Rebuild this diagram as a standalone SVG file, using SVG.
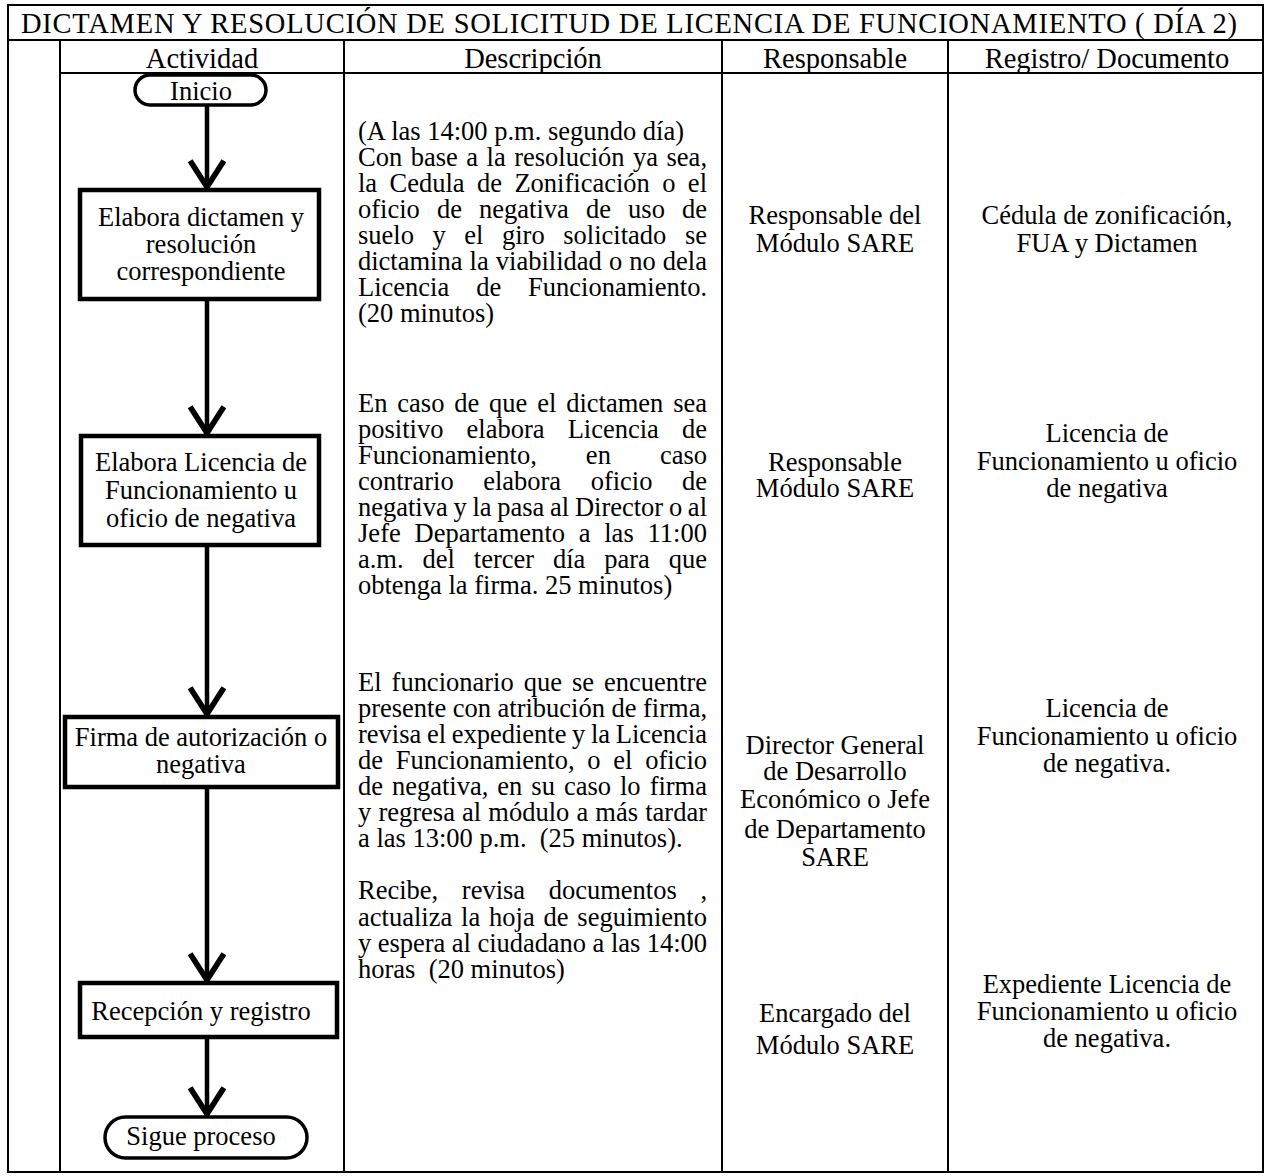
<svg xmlns="http://www.w3.org/2000/svg" width="1265" height="1176" viewBox="0 0 1265 1176">
<style>
text{font-family:"Liberation Serif","Times New Roman",serif;font-size:26.5px;fill:#000}
.h{font-size:28.5px}
.c{text-anchor:middle}
.grid line{stroke:#000;stroke-width:2}
.box{fill:#fff;stroke:#000;stroke-width:4.5}
.pill{fill:#fff;stroke:#000;stroke-width:3.5}
.conn line{stroke:#000;stroke-width:4.5}
</style>
<defs>
<marker id="arr" markerUnits="userSpaceOnUse" markerWidth="50" markerHeight="50" viewBox="-30 -20 40 40" refX="0" refY="0" orient="auto" overflow="visible">
<path d="M-21,-13.5 L0,0 L-21,13.5" fill="none" stroke="#000" stroke-width="4.5"/>
</marker>
</defs>
<rect width="1265" height="1176" fill="#fff"/>
<g id="table" class="grid">
<line x1="7" y1="5" x2="1264" y2="5"/>
<line x1="7" y1="40" x2="1264" y2="40"/>
<line x1="60" y1="73" x2="1264" y2="73"/>
<line x1="7" y1="1172" x2="1264" y2="1172"/>
<line x1="8" y1="4" x2="8" y2="1173"/>
<line x1="1263" y1="4" x2="1263" y2="1173"/>
<line x1="60" y1="40" x2="60" y2="1173"/>
<line x1="344" y1="40" x2="344" y2="1173"/>
<line x1="722" y1="40" x2="722" y2="1173"/>
<line x1="948" y1="40" x2="948" y2="1173"/>
</g>
<g id="headers">
<text class="h" x="21" y="33" textLength="1216" lengthAdjust="spacing">DICTAMEN Y RESOLUCIÓN DE SOLICITUD DE LICENCIA DE FUNCIONAMIENTO ( DÍA 2)</text>
<text class="h c" x="202" y="68">Actividad</text>
<text class="h c" x="533" y="68">Descripción</text>
<text class="h c" x="835" y="68">Responsable</text>
<text class="h c" x="1107" y="68">Registro/ Documento</text>
</g>
<g id="connectors" class="conn">
<line x1="207" y1="105" x2="207" y2="187" marker-end="url(#arr)"/>
<line x1="207" y1="299" x2="207" y2="433" marker-end="url(#arr)"/>
<line x1="207" y1="545" x2="207" y2="714" marker-end="url(#arr)"/>
<line x1="207" y1="787" x2="207" y2="980" marker-end="url(#arr)"/>
<line x1="207" y1="1037" x2="207" y2="1114" marker-end="url(#arr)"/>
</g>
<g id="n-inicio">
<rect class="pill" x="135" y="75" width="131" height="30" rx="15"/>
<text class="c" x="201" y="100">Inicio</text>
</g>
<g id="n-elabora-dictamen">
<rect class="box" x="80" y="190" width="239" height="109"/>
<text class="c"><tspan x="201" y="226">Elabora dictamen y</tspan><tspan x="201" y="253">resolución</tspan><tspan x="201" y="280">correspondiente</tspan></text>
</g>
<g id="n-elabora-licencia">
<rect class="box" x="81" y="436" width="238" height="109"/>
<text class="c"><tspan x="201" y="471">Elabora Licencia de</tspan><tspan x="201" y="499">Funcionamiento u</tspan><tspan x="201" y="527">oficio de negativa</tspan></text>
</g>
<g id="n-firma">
<rect class="box" x="65" y="717" width="273" height="70"/>
<text class="c"><tspan x="201" y="746">Firma de autorización o</tspan><tspan x="201" y="773">negativa</tspan></text>
</g>
<g id="n-recepcion">
<rect class="box" x="80" y="983" width="257" height="54"/>
<text class="c" x="201" y="1020">Recepción y registro</text>
</g>
<g id="n-sigue">
<rect class="pill" x="105" y="1117" width="202" height="41" rx="20.5"/>
<text class="c" x="201" y="1145">Sigue proceso</text>
</g>
<g id="descripcion">
<text xml:space="preserve"><tspan x="358" y="140">(A las 14:00 p.m. segundo día)</tspan><tspan x="358" y="166" textLength="349" lengthAdjust="spacing" style="word-spacing:1.9px">Con base a la resolución ya sea,</tspan><tspan x="358" y="192" textLength="349" lengthAdjust="spacing" style="word-spacing:5.8px">la Cedula de Zonificación o el</tspan><tspan x="358" y="218" textLength="349" lengthAdjust="spacing" style="word-spacing:10.5px">oficio de negativa de uso de</tspan><tspan x="358" y="244" textLength="349" lengthAdjust="spacing" style="word-spacing:11.9px">suelo y el giro solicitado se</tspan><tspan x="358" y="270" textLength="349" lengthAdjust="spacing" style="word-spacing:0.5px">dictamina la viabilidad o no dela</tspan><tspan x="358" y="296" textLength="349" lengthAdjust="spacing" style="word-spacing:20.3px">Licencia de Funcionamiento.</tspan><tspan x="358" y="322">(20 minutos)</tspan></text>
<text xml:space="preserve"><tspan x="358" y="412" textLength="349" lengthAdjust="spacing" style="word-spacing:3.2px">En caso de que el dictamen sea</tspan><tspan x="358" y="438" textLength="349" lengthAdjust="spacing" style="word-spacing:16.5px">positivo elabora Licencia de</tspan><tspan x="358" y="464" textLength="349" lengthAdjust="spacing" style="word-spacing:42.4px">Funcionamiento, en caso</tspan><tspan x="358" y="490" textLength="349" lengthAdjust="spacing" style="word-spacing:22.9px">contrario elabora oficio de</tspan><tspan x="358" y="516" textLength="349" lengthAdjust="spacing" style="word-spacing:-0.9px">negativa y la pasa al Director o al</tspan><tspan x="358" y="542" textLength="349" lengthAdjust="spacing" style="word-spacing:7px">Jefe Departamento a las 11:00</tspan><tspan x="358" y="568" textLength="349" lengthAdjust="spacing" style="word-spacing:12.3px">a.m. del tercer día para que</tspan><tspan x="358" y="594">obtenga la firma. 25 minutos)</tspan></text>
<text xml:space="preserve"><tspan x="358" y="691" textLength="349" lengthAdjust="spacing" style="word-spacing:3.4px">El funcionario que se encuentre</tspan><tspan x="358" y="717" textLength="349" lengthAdjust="spacing">presente con atribución de firma,</tspan><tspan x="358" y="743" textLength="349" lengthAdjust="spacing" style="word-spacing:-1px">revisa el expediente y la Licencia</tspan><tspan x="358" y="769" textLength="349" lengthAdjust="spacing" style="word-spacing:6.1px">de Funcionamiento, o el oficio</tspan><tspan x="358" y="795" textLength="349" lengthAdjust="spacing" style="word-spacing:2.4px">de negativa, en su caso lo firma</tspan><tspan x="358" y="821" textLength="349" lengthAdjust="spacing" style="word-spacing:0.5px">y regresa al módulo a más tardar</tspan><tspan x="358" y="847">a las 13:00 p.m.  (25 minutos).</tspan></text>
<text xml:space="preserve"><tspan x="358" y="899" textLength="349" lengthAdjust="spacing" style="word-spacing:17px">Recibe, revisa documentos ,</tspan><tspan x="358" y="926" textLength="349" lengthAdjust="spacing" style="word-spacing:2.2px">actualiza la hoja de seguimiento</tspan><tspan x="358" y="952" textLength="349" lengthAdjust="spacing">y espera al ciudadano a las 14:00</tspan><tspan x="358" y="978">horas  (20 minutos)</tspan></text>
</g>
<g id="responsable">
<text class="c"><tspan x="835" y="224">Responsable del</tspan><tspan x="835" y="252">Módulo SARE</tspan></text>
<text class="c"><tspan x="835" y="471">Responsable</tspan><tspan x="835" y="497">Módulo SARE</tspan></text>
<text class="c"><tspan x="835" y="754">Director General</tspan><tspan x="835" y="780">de Desarrollo</tspan><tspan x="835" y="808">Económico o Jefe</tspan><tspan x="835" y="838">de Departamento</tspan><tspan x="835" y="866">SARE</tspan></text>
<text class="c"><tspan x="835" y="1022">Encargado del</tspan><tspan x="835" y="1054">Módulo SARE</tspan></text>
</g>
<g id="registro">
<text class="c"><tspan x="1107" y="224">Cédula de zonificación,</tspan><tspan x="1107" y="252">FUA y Dictamen</tspan></text>
<text class="c"><tspan x="1107" y="442">Licencia de</tspan><tspan x="1107" y="470">Funcionamiento u oficio</tspan><tspan x="1107" y="497">de negativa</tspan></text>
<text class="c"><tspan x="1107" y="717">Licencia de</tspan><tspan x="1107" y="745">Funcionamiento u oficio</tspan><tspan x="1107" y="772">de negativa.</tspan></text>
<text class="c"><tspan x="1107" y="993">Expediente Licencia de</tspan><tspan x="1107" y="1020">Funcionamiento u oficio</tspan><tspan x="1107" y="1047">de negativa.</tspan></text>
</g>
</svg>
